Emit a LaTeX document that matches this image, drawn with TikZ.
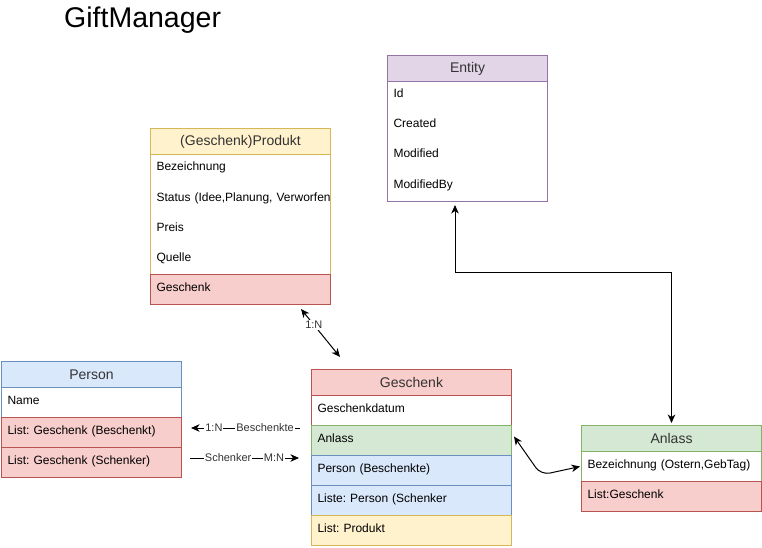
\documentclass[tikz,border=0pt]{standalone}
\usepackage{fontspec}
\setmainfont{Liberation Sans}
\usetikzlibrary{arrows.meta,calc}
\definecolor{pfill}{HTML}{E1D5E7}\definecolor{pline}{HTML}{9673A6}
\definecolor{yfill}{HTML}{FFF2CC}\definecolor{yline}{HTML}{D6B656}
\definecolor{rfill}{HTML}{F8CECC}\definecolor{rline}{HTML}{B85450}
\definecolor{bfill}{HTML}{DAE8FC}\definecolor{bline}{HTML}{6C8EBF}
\definecolor{gfill}{HTML}{D5E8D4}\definecolor{gline}{HTML}{82B366}
\definecolor{hdrtext}{HTML}{333333}
\definecolor{lbltext}{HTML}{333333}
\frenchspacing
\begin{document}
\frenchspacing
\begin{tikzpicture}[x=1pt,y=-1pt,
  frame/.style={draw=#1, fill=white, anchor=north west, inner sep=0pt, line width=1pt},
  hdr/.style={anchor=north west, minimum height=26pt, inner sep=0pt, line width=1pt,
    font=\fontsize{14}{16}\selectfont, text=hdrtext},
  row/.style={anchor=north west, minimum height=30pt, inner xsep=6pt, inner ysep=0pt,
    align=left, line width=1pt, font=\fontsize{12}{14}\selectfont,
    text height=9pt, text depth=6pt},
  lbl/.style={fill=white, inner sep=1pt, font=\fontsize{11}{13}\selectfont, text=lbltext},
  conn/.style={draw=black, line width=1pt},
  tip/.tip={Stealth[length=8.5pt,width=7.5pt,inset=2.5pt]},
]
\useasboundingbox (0,0) rectangle (762,548);

% title
\node[anchor=base west, inner sep=0pt, font=\fontsize{28.5}{32}\selectfont] (title) at (64,28) {GiftManager};

% Entity
\node[frame=pline, minimum width=160pt, minimum height=146pt] (entity) at (387,55) {};
\node[hdr, fill=pfill, draw=pline, minimum width=160pt] (entityh) at (387,55) {Entity};
\node[row, text width=148pt] (eid) at (387,81) {Id};
\node[row, text width=148pt] (ecreated) at (387,111) {Created};
\node[row, text width=148pt] (emod) at (387,141) {Modified};
\node[row, text width=148pt] (emodby) at (387,171) {ModifiedBy};

% Produkt
\node[frame=yline, minimum width=180pt, minimum height=176pt] (produkt) at (150,128) {};
\node[hdr, fill=yfill, draw=yline, minimum width=180pt] (produkth) at (150,128) {(Geschenk)Produkt};
\node[row, text width=168pt] (pbez) at (150,154) {Bezeichnung};
\begin{scope}
\clip (150,184) rectangle (329.5,214);
\node[row, text width=168pt] (pstatus) at (150,184) {\makebox[0pt][l]{Status (Idee,Planung, Verworfen)}};
\end{scope}
\node[row, text width=168pt] (ppreis) at (150,214) {Preis};
\node[row, text width=168pt] (pquelle) at (150,244) {Quelle};
\node[row, text width=168pt, fill=rfill, draw=rline] (pgeschenk) at (150,274) {Geschenk};

% Person
\node[frame=bline, minimum width=180pt, minimum height=116pt] (person) at (1,361) {};
\node[hdr, fill=bfill, draw=bline, minimum width=180pt] (personh) at (1,361) {Person};
\node[row, text width=168pt] (pname) at (1,387) {Name};
\node[row, text width=168pt, fill=rfill, draw=rline] (plbesch) at (1,417) {List: Geschenk (Beschenkt)};
\node[row, text width=168pt, fill=rfill, draw=rline] (plschenk) at (1,447) {List: Geschenk (Schenker)};

% Geschenk
\node[frame=rline, minimum width=200pt, minimum height=176pt] (geschenk) at (311,369) {};
\node[hdr, fill=rfill, draw=rline, minimum width=200pt] (geschenkh) at (311,369) {Geschenk};
\node[row, text width=188pt] (gdatum) at (311,395) {Geschenkdatum};
\node[row, text width=188pt, fill=gfill, draw=gline] (ganlass) at (311,425) {Anlass};
\node[row, text width=188pt, fill=bfill, draw=bline] (gperson) at (311,455) {Person (Beschenkte)};
\node[row, text width=188pt, fill=bfill, draw=bline] (gliste) at (311,485) {Liste: Person (Schenker};
\node[row, text width=188pt, fill=yfill, draw=yline] (gprodukt) at (311,515) {List: Produkt};

% Anlass
\node[frame=gline, minimum width=180pt, minimum height=86pt] (anlass) at (581,425) {};
\node[hdr, fill=gfill, draw=gline, minimum width=180pt] (anlassh) at (581,425) {Anlass};
\node[row, text width=168pt] (abez) at (581,451) {Bezeichnung (Ostern,GebTag)};
\node[row, text width=168pt, fill=rfill, draw=rline] (ageschenk) at (581,481) {List:Geschenk};

% connectors
\coordinate (ecorner) at (455,272);
\draw[conn, tip-tip] ($(ecorner |- emodby.south)+(0,3)$) -- (ecorner) -| ($(anlassh.north)+(0,-2)$);

\coordinate (pa) at (301,309);
\coordinate (pb) at (340,357);
\draw[conn, tip-tip] (pa) -- node[lbl, pos=0.33] (l1n) {1:N} (pb);

\coordinate (ba) at (191,428);
\coordinate (bb) at (300,428);
\draw[conn, tip-] (ba) -- node[lbl, pos=0.21] (lb1) {1:N} node[lbl, pos=0.68] (lb2) {Beschenkte} (bb);

\coordinate (sa) at (190,458);
\coordinate (sb) at (299,458);
\draw[conn, -tip] (sa) -- node[lbl, pos=0.35] (ls1) {Schenker} node[lbl, pos=0.77] (ls2) {M:N} (sb);

\coordinate (amid) at (541,475);
\draw[conn, tip-tip, rounded corners=9pt] ($(ganlass.east)+(2,-4)$) -- (amid) -- ($(abez.west)+(-1,0)$);
\end{tikzpicture}
\end{document}
